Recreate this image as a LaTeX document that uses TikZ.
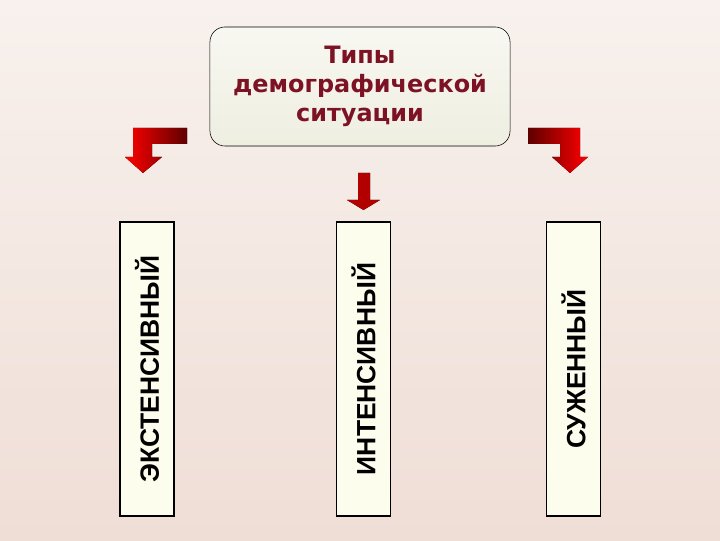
\documentclass[tikz,border=0pt]{standalone}
\usepackage{fontspec}
\setmainfont{Liberation Sans}
\newfontfamily\titlefont{DejaVu Sans}
\usepackage{xcolor}

\definecolor{bgtop}{RGB}{248,241,237}
\definecolor{bgbot}{RGB}{239,222,214}
\definecolor{titlered}{RGB}{125,18,36}
\definecolor{ivory}{RGB}{253,253,238}
\definecolor{darkred}{RGB}{95,0,0}

\tikzset{
    typebox/.style={draw, thick, fill=ivory, rotate=90, minimum width=7.35cm, minimum height=1.35cm,
        inner sep=0pt, font=\bfseries\fontsize{18.8}{20}\selectfont},
    redarrow/.style={draw=none}
}

\begin{document}
\begin{tikzpicture}[x=0.025cm,y=0.025cm]

    % background
    \fill[top color=bgtop, bottom color=bgbot] (0,0) rectangle (720,540);
    \useasboundingbox (0,0) rectangle (720,540);

    % title
    \node[draw, rounded corners=0.375cm, top color=white!60!ivory!95!gray, bottom color=ivory!88!gray,
        minimum width=7.5cm, minimum height=2.975cm, align=center, text=titlered,
        font=\titlefont\bfseries\fontsize{17}{20.6}\selectfont] (title) at (360,453.5)
        {Типы\\демографической\\ситуации};

    % types
    \node[typebox] (ext) at (147,171) {ЭКСТЕНСИВНЫЙ};
    \node[typebox] (int) at (363.5,171) {ИНТЕНСИВНЫЙ};
    \node[typebox] (narrow) at (573.5,171) {СУЖЕННЫЙ};

    % arrows
    \fill[redarrow, left color=red, right color=darkred]
        (133,412) -- (187,412) -- (187,396) -- (152,396) -- (152,383) -- (162,383)
        -- (143,367) -- (125,383) -- (133,383) -- cycle;
    \fill[redarrow, left color=red!70!black, middle color=red, right color=red!70!black]
        (358,367) -- (370,367) -- (370,340) -- (380,340) -- (363.5,330) -- (347,340)
        -- (358,340) -- cycle;
    \fill[redarrow, left color=darkred, right color=red]
        (528,412) -- (580,412) -- (580,383) -- (588,383) -- (570,367) -- (552,383)
        -- (560,383) -- (560,396) -- (528,396) -- cycle;

\end{tikzpicture}
\end{document}
